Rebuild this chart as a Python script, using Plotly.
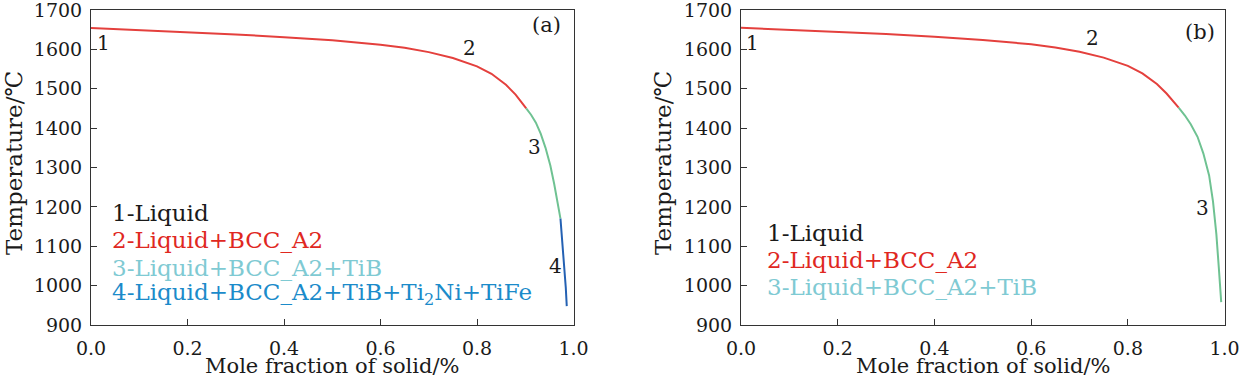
import plotly.graph_objects as go

# ---------------- data ----------------
# Panel (a)
a_red_x = [0.0, 0.1, 0.2, 0.3, 0.4, 0.5, 0.6, 0.65, 0.7, 0.75, 0.8, 0.83, 0.86, 0.88, 0.902]
a_red_T = [1654, 1649, 1644, 1638, 1631, 1623, 1612, 1604, 1593, 1578, 1557, 1538, 1510, 1485, 1450]
a_green_x = [0.902, 0.912, 0.922, 0.932, 0.942, 0.952, 0.960, 0.967, 0.973]
a_green_T = [1450, 1434, 1414, 1386, 1350, 1305, 1258, 1212, 1170]
a_blue_x = [0.973, 0.977, 0.981, 0.984, 0.986]
a_blue_T = [1170, 1110, 1050, 995, 948]

# Panel (b)
b_red_x = [0.0, 0.1, 0.2, 0.3, 0.4, 0.5, 0.6, 0.65, 0.7, 0.75, 0.8, 0.83, 0.86, 0.88, 0.905]
b_red_T = [1655, 1650, 1645, 1639, 1632, 1624, 1613, 1605, 1594, 1579, 1558, 1539, 1512, 1488, 1452]
b_green_x = [0.905, 0.918, 0.930, 0.944, 0.956, 0.968, 0.976, 0.983, 0.988, 0.993]
b_green_T = [1452, 1432, 1410, 1378, 1336, 1280, 1214, 1130, 1046, 958]

x_ticks = [0.0, 0.2, 0.4, 0.6, 0.8, 1.0]
y_ticks = [900, 1000, 1100, 1200, 1300, 1400, 1500, 1600, 1700]

legend_a = ["1-Liquid", "2-Liquid+BCC_A2", "3-Liquid+BCC_A2+TiB",
            "4-Liquid+BCC_A2+TiB+Ti<sub>2</sub>Ni+TiFe"]
legend_b = ["1-Liquid", "2-Liquid+BCC_A2", "3-Liquid+BCC_A2+TiB"]

# ---------------- style ----------------
RED = "#e4403d"
GREEN = "#6fc292"
BLUE = "#2461b3"
LEG_COLORS = ["#1a1a1a", "#e0281f", "#7fcad3", "#1b8bca"]
FONT = "DejaVu Serif"
TXT = "#1a1a1a"

fig = go.Figure()

def add_line(x, y, color, xa, ya):
    fig.add_trace(go.Scatter(x=x, y=y, mode="lines", line=dict(color=color, width=2),
                             xaxis=xa, yaxis=ya, showlegend=False, hoverinfo="skip"))

add_line(a_red_x, a_red_T, RED, "x", "y")
add_line(a_green_x, a_green_T, GREEN, "x", "y")
add_line(a_blue_x, a_blue_T, BLUE, "x", "y")
add_line(b_red_x, b_red_T, RED, "x2", "y2")
add_line(b_green_x, b_green_T, GREEN, "x2", "y2")

y_dom = [55 / 380, 370 / 380]
xa_dom = [91 / 1241, 573.5 / 1241]
xb_dom = [741 / 1241, 1224.6 / 1241]

axis_common = dict(showline=True, linecolor="#333", linewidth=1, mirror=True,
                   ticks="inside", ticklen=6, tickcolor="#333", showgrid=False,
                   zeroline=False, ticklabeloverflow="allow", automargin=False,
                   tickfont=dict(family=FONT, size=19, color=TXT))

fig.update_layout(
    width=1241, height=380, margin=dict(l=0, r=0, t=0, b=0, autoexpand=False),
    paper_bgcolor="white", plot_bgcolor="white",
    font=dict(family=FONT, color=TXT),
    xaxis=dict(domain=xa_dom, range=[0, 1], tickvals=x_ticks, tickformat=".1f",
               anchor="y", ticklabelstandoff=6, **axis_common),
    yaxis=dict(domain=y_dom, range=[900, 1700], tickvals=y_ticks, anchor="x",
               ticklabelstandoff=4, **axis_common),
    xaxis2=dict(domain=xb_dom, range=[0, 1], tickvals=x_ticks, tickformat=".1f",
                anchor="y2", ticklabelstandoff=6, **axis_common),
    yaxis2=dict(domain=y_dom, range=[900, 1700], tickvals=y_ticks, anchor="x2",
                ticklabelstandoff=4, **axis_common),
)

ann = []
def txt(x, y, s, xref, yref, size=20, color=TXT, xanchor="center", yanchor="middle", angle=0):
    ann.append(dict(x=x, y=y, text=s, xref=xref, yref=yref, showarrow=False,
                    xanchor=xanchor, yanchor=yanchor, textangle=angle,
                    font=dict(family=FONT, size=size, color=color)))

# Panel (a) labels
txt(0.025, 1617, "1", "x", "y")
txt(0.785, 1604, "2", "x", "y")
txt(0.92, 1353, "3", "x", "y")
txt(0.962, 1051, "4", "x", "y")
txt(0.945, 1663, "(a)", "x", "y", size=21)
for s, yv, c in zip(legend_a, [1184, 1116, 1046, 978], LEG_COLORS):
    txt(0.039, yv, s, "x", "y", size=23, color=c, xanchor="left")

# Panel (b) labels
txt(0.023, 1617, "1", "x2", "y2")
txt(0.726, 1630, "2", "x2", "y2")
txt(0.955, 1197, "3", "x2", "y2")
txt(0.949, 1645, "(b)", "x2", "y2", size=21)
for s, yv, c in zip(legend_b, [1134, 1064, 996], LEG_COLORS):
    txt(0.05, yv, s, "x2", "y2", size=23, color=c, xanchor="left")

# Axis titles
for xc in [(91 + 573.5) / 2 / 1241, (741 + 1224.6) / 2 / 1241]:
    txt(xc, 14 / 380, "Mole fraction of solid/%", "paper", "paper", size=21)
for xc in [14 / 1241, 663 / 1241]:
    txt(xc, (380 - 163) / 380, "Temperature/℃", "paper", "paper", size=23, angle=-90)

fig.update_layout(annotations=ann)
fig.write_html("out.html", config={"displayModeBar": False},
               post_script="document.body.style.margin='0px';")
